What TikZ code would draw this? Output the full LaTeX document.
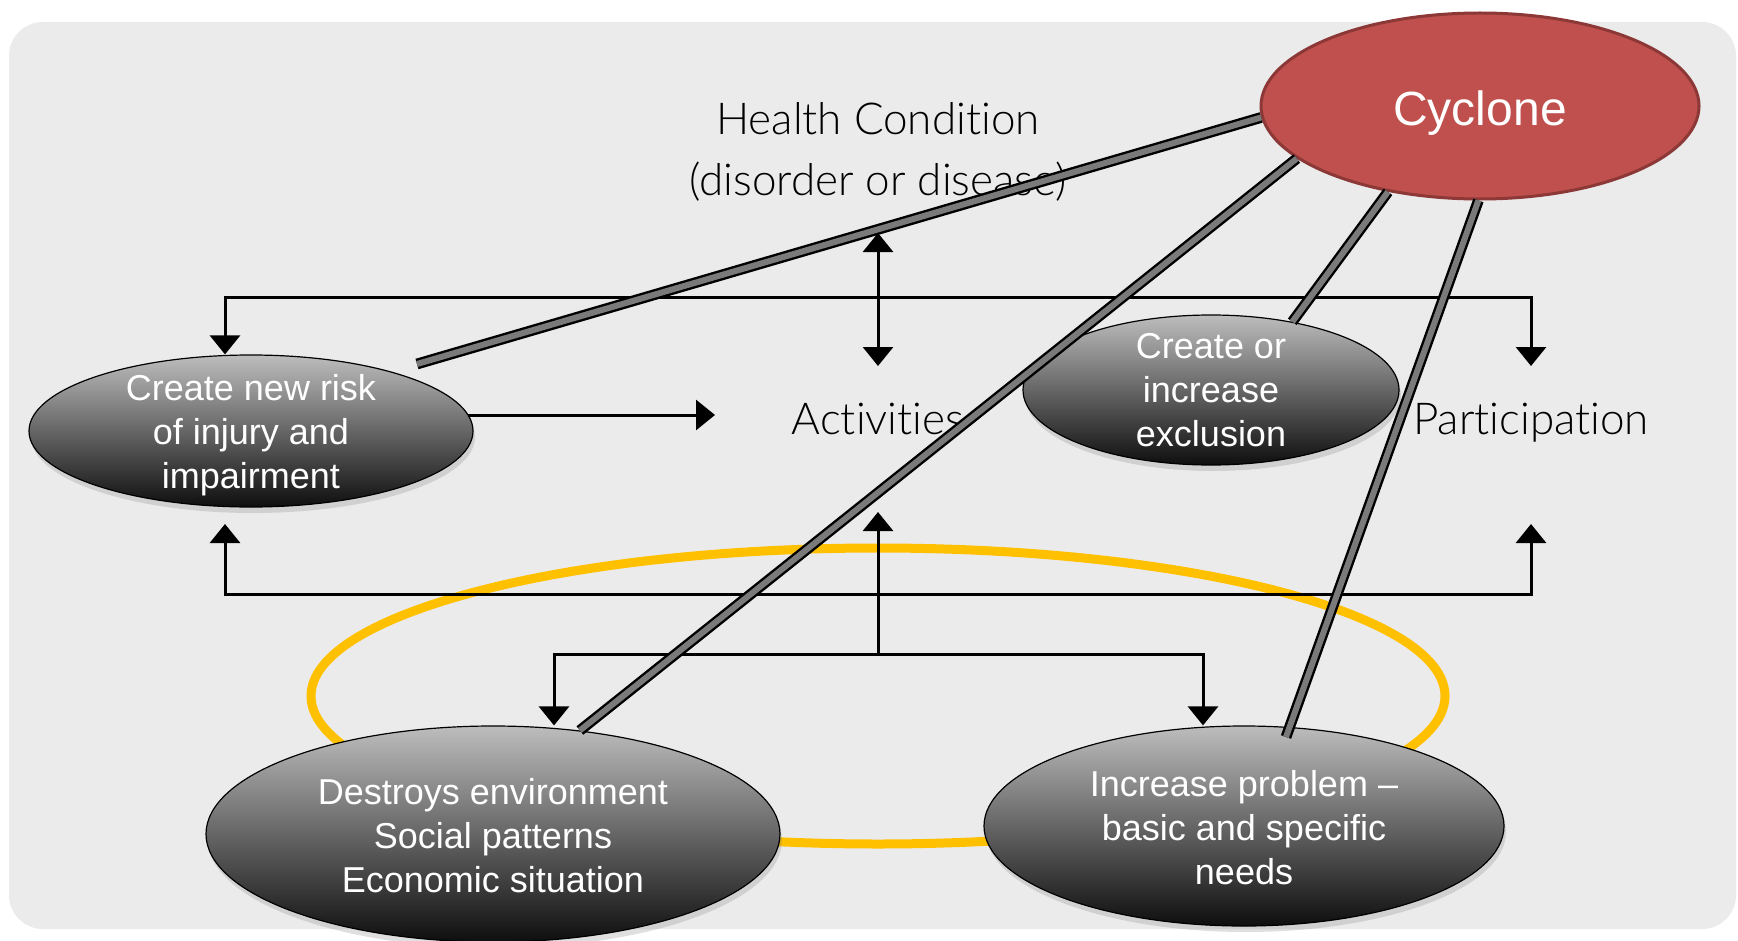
\documentclass[tikz,border=0pt]{standalone}
\usepackage{fontspec}
\setmainfont{Liberation Sans}
\newfontfamily\gillfont[UprightFont={* Light},Ligatures={NoCommon,NoRequired,NoContextual}]{Lato}
\usetikzlibrary{shapes.geometric,arrows.meta,shadows}
\definecolor{bgc}{HTML}{EBEBEB}
\definecolor{cyfill}{HTML}{C0504D}
\definecolor{cydraw}{HTML}{8C3836}
\definecolor{yel}{HTML}{FFC000}
\definecolor{gtop}{HTML}{BDBDBD}
\definecolor{gbot}{HTML}{0E0E0E}
\definecolor{pipec}{HTML}{7A7A7A}
\begin{document}
\begin{tikzpicture}[x=0.5pt,y=-0.5pt,
  arr/.style={line width=1.5pt, -{Triangle[width=15pt,length=9.5pt]}},
  darr/.style={line width=1.5pt, {Triangle[width=15pt,length=9.5pt]}-{Triangle[width=15pt,length=9.5pt]}},
  grayell/.style={ellipse, draw=black, line width=0.6pt, top color=gtop, bottom color=gbot, inner sep=0pt,
    drop shadow={opacity=0.25, shadow xshift=1pt, shadow yshift=-3pt}},
  etext/.style={text=white, font=\fontsize{18}{22}\selectfont, align=center},
  gtext/.style={font=\gillfont\fontsize{22}{30.5}\selectfont, align=center, text=black},
  pipeline/.style={draw=black, line width=1.2pt, double=pipec, double distance=3pt}
]
\useasboundingbox (0,0) rectangle (1738,941);
\fill[white] (0,0) rectangle (1738,941);
\fill[bgc, rounded corners=17pt] (9,22) rectangle (1736,929);

% yellow environment ellipse
\node[ellipse, draw=yel, line width=4.5pt, minimum width=567pt, minimum height=148pt] (yl) at (878,696) {};

% texts
\node[gtext] (hc) at (878,152) {Health Condition\\(disorder or disease)};
\node[gtext, anchor=base] (act) at (878,434) {Activities};
\node[gtext, anchor=base] (par) at (1531,434) {Participation};

% gray ellipses
\node[grayell, minimum width=222pt, minimum height=76pt,
  label={[etext, yshift=-2pt]center:{Create new risk\\of injury and\\impairment}}] (e1) at (251,431) {};
\node[grayell, minimum width=188pt, minimum height=75pt,
  label={[etext]center:{Create or\\increase\\exclusion}}] (e2) at (1211,390) {};
\node[grayell, minimum width=287pt, minimum height=108pt,
  label={[etext, yshift=-0.8pt]center:{Destroys environment\\Social patterns\\Economic situation}}] (e3) at (493,834) {};
\node[grayell, minimum width=260pt, minimum height=100pt,
  label={[etext, yshift=-1pt]center:{Increase problem –\\basic and specific\\needs}}] (e4) at (1244,826) {};

% cyclone
\node[ellipse, fill=cyfill, draw=cydraw, line width=1.5pt, minimum width=219pt, minimum height=93pt,
  label={[text=white, font=\fontsize{24}{28}\selectfont, yshift=-3.5pt]center:Cyclone}] (cyc) at (1480,106) {};

% arrow structure
\coordinate (tl) at (225,297);
\coordinate (tr) at (1531,297);
\coordinate (tre) at (1531,366);
\draw[darr] (tl |- e1.north) -- (tl) -- (tr) -- (tre);
\coordinate (v1) at (878,233);
\coordinate (v2) at (878,366);
\draw[darr] (v1) -- (v2);
\coordinate (h1) at (468,415);
\coordinate (h2) at (715,415);
\draw[arr] (h1) -- (h2);
\coordinate (bl) at (225,594);
\coordinate (blt) at (225,524);
\coordinate (br) at (1531,594);
\coordinate (brt) at (1531,524);
\draw[darr] (blt) -- (bl) -- (br) -- (brt);
\coordinate (m1) at (878,654);
\coordinate (mt) at (878,512);
\draw[arr] (m1) -- (mt);
\coordinate (ml) at (554,654);
\coordinate (mr) at (1203,654);
\draw[darr] (ml |- e3.north) -- (ml) -- (mr) -- (mr |- e4.north);

% pipes from cyclone
\coordinate (p1e) at (417,364);
\coordinate (p4e) at (1286,737);
\draw[pipeline] (cyc.183) -- (p1e);
\draw[pipeline] (cyc.196) -- (e3.50);
\draw[pipeline] (cyc.223) -- (e2.40);
\draw[pipeline] (cyc.269) -- (p4e);
\end{tikzpicture}
\end{document}
